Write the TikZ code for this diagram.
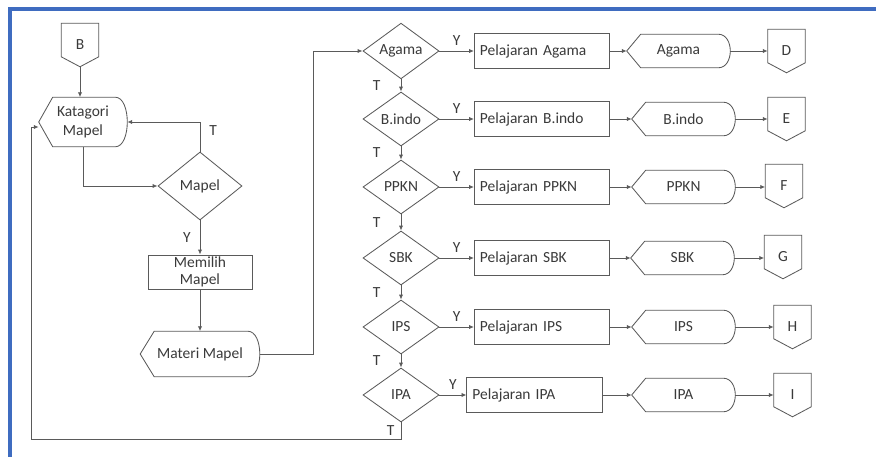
\documentclass[tikz,border=0pt]{standalone}
\usepackage{fontspec}
\setmainfont{Carlito}
\usetikzlibrary{shapes.geometric,arrows.meta}

\definecolor{garis}{HTML}{5A5A5A}
\definecolor{teks}{HTML}{3A3A3A}
\definecolor{bingkai}{HTML}{3F6CC0}

% outline of a display symbol around a node
\newcommand{\dispshape}[1]{%
  \draw[outline] (#1.west) -- ([xshift=0.35cm]#1.north west) -- ([xshift=-0.3cm]#1.north east)
    .. controls ([xshift=0.1cm]#1.north east) and ([xshift=0.1cm]#1.south east) .. ([xshift=-0.3cm]#1.south east)
    -- ([xshift=0.35cm]#1.south west) -- cycle;}
% outline of an off-page connector around a node
\newcommand{\offshape}[1]{%
  \draw[outline] (#1.north west) -- (#1.north east) -- ([yshift=0.25cm]#1.south east)
    -- (#1.south) -- ([yshift=0.25cm]#1.south west) -- cycle;}

\begin{document}
\begin{tikzpicture}[x=0.025cm, y=-0.025cm, font=\fontsize{11}{13}\selectfont, text=teks,
  outline/.style={draw=garis, line width=0.6pt},
  conn/.style={draw=garis, line width=0.6pt, -{Latex[length=3.5pt,width=3pt]}},
  decision/.style={diamond, draw=garis, line width=0.6pt, inner sep=0pt, minimum width=1.9cm, minimum height=1.35cm},
  process/.style={rectangle, draw=garis, line width=0.6pt, inner xsep=0.14cm, inner ysep=0pt,
    text width=3.1cm, align=left, minimum height=0.875cm},
  disp/.style={inner sep=0pt, minimum width=2.575cm, minimum height=0.825cm, align=center},
  offpage/.style={inner sep=0pt, minimum width=0.925cm, minimum height=1.075cm}]
\useasboundingbox (0,0) rectangle (876,457);
\draw[bingkai, line width=2.2pt] (10,457) -- (10,9) -- (876,9);

% left part
\node[offpage] (B) at (80,45) {B};
\offshape{B}
\node[disp, minimum width=2.2cm, minimum height=1.225cm] (kat) at (83,122) {Katagori\\Mapel};
\dispshape{kat}
\node[decision, minimum width=2.1cm, minimum height=1.7cm] (mapel) at (200,186) {Mapel};
\node[draw=garis, line width=0.6pt, minimum width=2.6cm, minimum height=0.85cm, inner sep=0pt, align=center]
  (memilih) at (200,272) {Memilih\\[-1pt]Mapel};
\node[disp, minimum width=2.975cm, minimum height=1.125cm] (materi) at (200,354) {Materi Mapel};
\dispshape{materi}
\coordinate (balik) at (31,439);

% right part
\node[decision] (dAgama) at (401,51) {Agama};
\node[decision] (dBindo) at (401,119) {B.indo};
\node[decision] (dPPKN) at (401,187) {PPKN};
\node[decision] (dSBK) at (401,258) {SBK};
\node[decision] (dIPS) at (401,327) {IPS};
\node[decision] (dIPA) at (401,395) {IPA};

\node[process] (pAgama) at (542,51) {Pelajaran Agama};
\node[process] (pBindo) at (542,119) {Pelajaran B.indo};
\node[process] (pPPKN) at (542,187) {Pelajaran PPKN};
\node[process] (pSBK) at (542,258) {Pelajaran SBK};
\node[process] (pIPS) at (542,327) {Pelajaran IPS};
\node[process] (pIPA) at (534.5,395) {Pelajaran IPA};

\node[disp] (tAgama) at (678.5,51) {Agama};
\node[disp] (tBindo) at (683.5,119) {B.indo};
\node[disp] (tPPKN) at (683.5,187) {PPKN};
\node[disp] (tSBK) at (682.5,258) {SBK};
\node[disp] (tIPS) at (683.5,327) {IPS};
\node[disp] (tIPA) at (683.5,395) {IPA};

\node[offpage] (D) at (786.5,51) {D};
\node[offpage] (E) at (786.5,119) {E};
\node[offpage] (F) at (784,186) {F};
\node[offpage] (G) at (783,257) {G};
\node[offpage] (H) at (792.5,327) {H};
\node[offpage] (I) at (792.5,395) {I};

% connectors
\draw[conn] (B.south) -- (B.south |- kat.north);
\draw[conn] (kat.south) |- (mapel.west);
\draw[conn] (mapel.north) |- (kat.east) node[pos=0.35, right=3pt] {T};
\draw[conn] (mapel.south) -- (memilih.north) node[midway, left=3pt] {Y};
\draw[conn] (memilih.south) -- (materi.north);
\draw[conn] (materi.east) -- ++(54,0) |- (dAgama.west);
\foreach \n/\o in {Agama/D, Bindo/E, PPKN/F, SBK/G, IPS/H, IPA/I} {
  \draw[conn] (d\n.east) -- (p\n.west) node[midway, above] {Y};
  \draw[conn] (p\n.east) -- (t\n.west);
  \draw[conn] (t\n.east) -- (\o.west |- t\n.east);
  \dispshape{t\n}
  \offshape{\o}
}
\foreach \a/\b in {Agama/Bindo, Bindo/PPKN, PPKN/SBK, SBK/IPS, IPS/IPA}
  \draw[conn] (d\a.south) -- (d\b.north) node[midway, left=11pt] {T};
\draw[conn] (dIPA.south) |- (balik) node[pos=0.25, left=1pt] {T} |- ([yshift=-0.125cm]kat.west);
\end{tikzpicture}
\end{document}
